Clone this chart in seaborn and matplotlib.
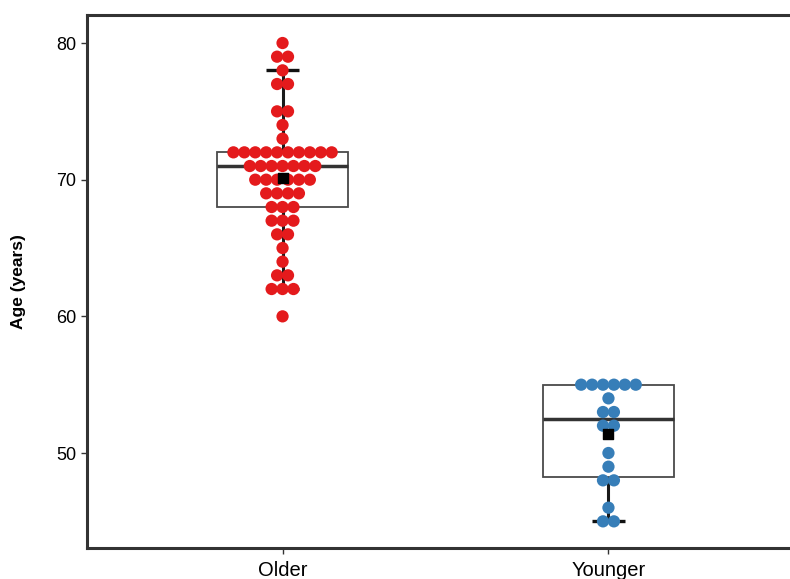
import numpy as np
import pandas as pd
import matplotlib
matplotlib.use("Agg")
import matplotlib.pyplot as plt
import seaborn as sns
from matplotlib import cbook

# ---- data ----
groups = ["Older", "Younger"]
older_ages = [80, 79, 79, 78, 77, 77, 75, 75, 74, 73,
              72, 72, 72, 72, 72, 72, 72, 72, 72, 72,
              71, 71, 71, 71, 71, 71, 71,
              70, 70, 70, 70, 70, 70,
              69, 69, 69, 69,
              68, 68, 68,
              67, 67, 67,
              66, 66, 65, 64, 63, 63, 62, 62, 62, 60]
younger_ages = [55, 55, 55, 55, 55, 55, 54, 53, 53, 52, 52,
                50, 49, 48, 48, 46, 45, 45]
colors = ["#E41A1C", "#377EB8"]
y_ticks = [50, 60, 70, 80]

sns.set_theme(style="white")
plt.rcParams["font.family"] = ["Liberation Sans", "DejaVu Sans"]

df = pd.DataFrame({
    "group": ["Older"] * len(older_ages) + ["Younger"] * len(younger_ages),
    "age": older_ages + younger_ages,
})

fig = plt.figure(figsize=(7.9, 5.79), dpi=100)
ax = fig.add_axes([87 / 790, 31 / 579, (804 - 87) / 790, (548 - 15) / 579])

# box + whiskers
sns.boxplot(data=df, x="group", y="age", order=groups, width=0.4,
            showfliers=False, showcaps=False, whis=1.5,
            boxprops=dict(facecolor="white", edgecolor="#4a4a4a", linewidth=1.3),
            medianprops=dict(color="#333333", linewidth=2.5),
            whiskerprops=dict(color="#1a1a1a", linewidth=2.2),
            ax=ax, zorder=1)

# whisker caps (errorbar style)
for i, g in enumerate(groups):
    vals = df.loc[df.group == g, "age"].to_numpy()
    st = cbook.boxplot_stats(vals, whis=1.5)[0]
    for yv in (st["whislo"], st["whishi"]):
        ax.hlines(yv, i - 0.05, i + 0.05, color="#111111", linewidth=2.4, zorder=2)

# centered dot stacks
dot_w = 0.0335
xs, ys, cs = [], [], []
for i, g in enumerate(groups):
    vals = df.loc[df.group == g, "age"]
    for v, n in vals.value_counts().items():
        for k in range(n):
            xs.append(i + (k - (n - 1) / 2) * dot_w)
            ys.append(v)
            cs.append(g)
pts = pd.DataFrame({"x": xs, "y": ys, "g": cs})
sns.scatterplot(data=pts, x="x", y="y", hue="g", hue_order=groups,
                palette=colors, s=78, linewidth=0, legend=False, ax=ax, zorder=3)

# means
means = df.groupby("group")["age"].mean().reindex(groups)
ax.scatter(range(len(groups)), means.values, marker="s", s=45, color="black", zorder=4)

ax.set_xlim(-0.6, 1.6)
ax.set_ylim(43.05, 82.05)
ax.set_xticks(range(len(groups)))
ax.set_xticklabels(groups)
ax.set_yticks(y_ticks)
ax.set_xlabel("")
ax.set_ylabel("Age (years)", fontsize=12.5, fontweight="bold", color="black", labelpad=22)
ax.tick_params(axis="y", labelsize=13, colors="#333333", labelcolor="black",
               length=4, width=1, left=True)
ax.tick_params(axis="x", labelsize=14.5, colors="#333333", labelcolor="black",
               length=4, width=1, bottom=True, pad=5)
for s in ax.spines.values():
    s.set_color("#333333")
    s.set_linewidth(2.2)

fig.savefig("out.png", dpi=100)
